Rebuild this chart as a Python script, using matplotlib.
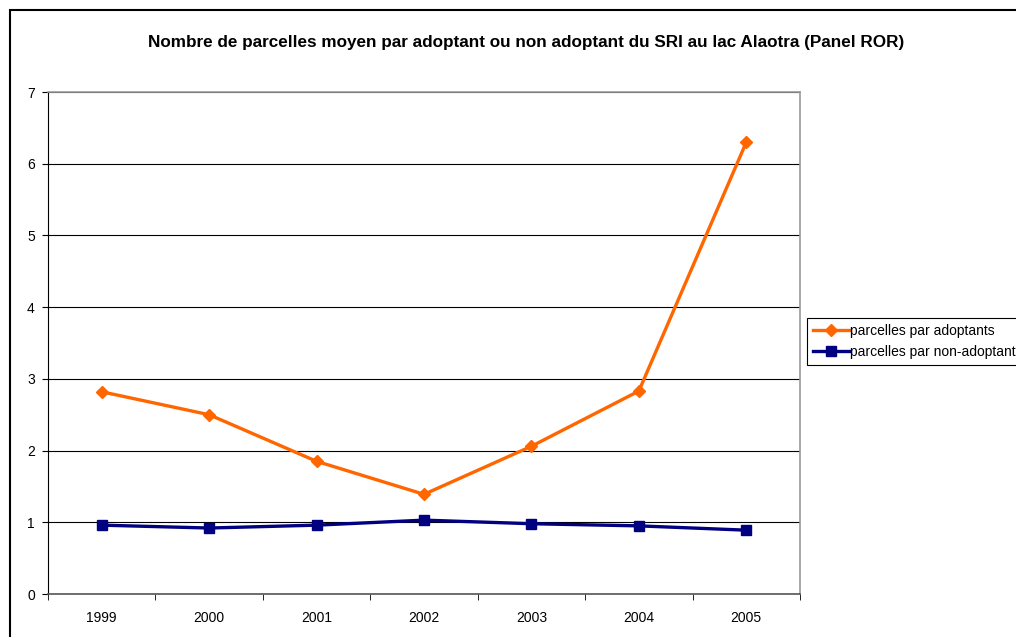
import matplotlib
matplotlib.use("Agg")
import matplotlib.pyplot as plt
from matplotlib.patches import Rectangle

plt.rcParams['font.family'] = ['Liberation Sans', 'DejaVu Sans']

years = ["1999", "2000", "2001", "2002", "2003", "2004", "2005"]
adoptants = [2.82, 2.50, 1.85, 1.39, 2.06, 2.83, 6.30]
non_adoptants = [0.96, 0.92, 0.96, 1.03, 0.98, 0.95, 0.89]

W, H = 1016, 637
fig = plt.figure(figsize=(W / 100, H / 100), dpi=100)
ax = fig.add_axes([48 / W, 1 - 594 / H, (800 - 48) / W, (594 - 92) / H])

x = list(range(len(years)))
ax.plot(x, adoptants, color='#FF6600', lw=2.4, marker='D', ms=6.5,
        label='parcelles par adoptants', zorder=3)
ax.plot(x, non_adoptants, color='#000080', lw=2.4, marker='s', ms=7.5,
        label='parcelles par non-adoptant', zorder=3)

ax.set_xlim(-0.5, len(years) - 0.5)
ax.set_ylim(0, 7)
ax.set_yticks(range(0, 8))
ax.set_xticks(x)
ax.set_xticklabels(years)
ax.set_xticks([i - 0.5 for i in range(len(years) + 1)], minor=True)
ax.tick_params(axis='x', which='major', length=0, pad=12, labelsize=10)
ax.tick_params(axis='x', which='minor', length=4, direction='out', color='black')
ax.tick_params(axis='y', length=4.5, direction='out', labelsize=10, pad=5)
ax.grid(axis='y', color='black', lw=0.8)
ax.set_axisbelow(True)
for s in ['top', 'right']:
    ax.spines[s].set_color('#999999')
    ax.spines[s].set_linewidth(1.2)
ax.spines['left'].set_color('black')
ax.spines['bottom'].set_color('#555555')
ax.spines['bottom'].set_linewidth(1.2)

fig.text(526 / W, 1 - 43 / H,
         'Nombre de parcelles moyen par adoptant ou non adoptant du SRI au lac Alaotra (Panel ROR)',
         ha='center', va='center', fontsize=12.3, fontweight='bold')

leg = ax.legend(loc='upper left', bbox_to_anchor=(807 / W, 1 - 318 / H),
                bbox_transform=fig.transFigure, fontsize=10, frameon=True,
                fancybox=False, edgecolor='black', framealpha=1,
                handlelength=2.7, handletextpad=0.0, borderpad=0.4,
                labelspacing=0.55, borderaxespad=0)
leg.get_frame().set_linewidth(0.8)

fig.patches.append(Rectangle((10 / W, -0.1), 1.2, 1 - 10 / H + 0.1,
                             transform=fig.transFigure, fill=False,
                             edgecolor='black', lw=1.5))

fig.savefig('out.png', dpi=100)
